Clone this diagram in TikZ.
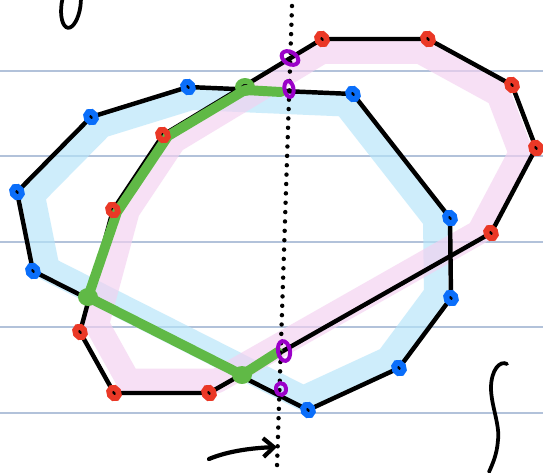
\documentclass[tikz,border=0pt]{standalone}
\usetikzlibrary{calc,arrows.meta}
\definecolor{ruled}{RGB}{178,194,218}
\definecolor{vblue}{RGB}{10,110,250}
\definecolor{vred}{RGB}{234,56,38}
\definecolor{vgreen}{RGB}{96,185,70}
\definecolor{vpurple}{RGB}{155,0,200}
\definecolor{bandblue}{RGB}{180,228,250}
\definecolor{bandpink}{RGB}{244,208,240}
\begin{document}
\begin{tikzpicture}[x=0.03cm, y=-0.03cm,
    edge/.style={line width=3.8pt, line join=round},
    band/.style={line width=21pt, line join=round, line cap=round, opacity=0.65},
    vertex/.style={line width=5pt},
    crossing/.style={vpurple, line width=3.4pt}]
    \useasboundingbox[fill=white] (0,0) rectangle (543,472);

    % Ruled paper
    \foreach \y in {71,156,242,327,413}
        \draw[ruled, line width=1.6pt] (0,\y) -- (543,\y);

    % Blue polygon
    \coordinate (bc) at (240,240);
    \coordinate (b1) at (188,87);
    \coordinate (b2) at (353,94);
    \coordinate (b3) at (450,218);
    \coordinate (b4) at (451,298);
    \coordinate (b5) at (399,368);
    \coordinate (b6) at (308,410);
    \coordinate (b7) at (33,271);
    \coordinate (b8) at (17,192);
    \coordinate (b9) at (91,117);

    % Red polygon
    \coordinate (rc) at (320,220);
    \coordinate (r1) at (322,39);
    \coordinate (r2) at (428,39);
    \coordinate (r3) at (512,85);
    \coordinate (r4) at (536,148);
    \coordinate (r5) at (491,233);
    \coordinate (r6) at (209,393);
    \coordinate (r7) at (114,393);
    \coordinate (r8) at (80,332);
    \coordinate (r9) at (113,210);
    \coordinate (r10) at (163,135);

    % Crossings
    \coordinate (g1) at (245,87);
    \coordinate (g2) at (88,297);
    \coordinate (g3) at (242,375);
    \coordinate (p1) at (290,58);
    \coordinate (p2) at (289,89);
    \coordinate (p3) at (284,351);
    \coordinate (p4) at (281,389);

    % Highlight bands
    \draw[band, bandblue] ($(bc)!0.93!(b1)$)
        \foreach \i in {2,...,9} { -- ($(bc)!0.93!(b\i)$) } -- cycle;
    \draw[band, bandpink] ($(rc)!0.93!(r1)$)
        \foreach \i in {2,...,10} { -- ($(rc)!0.93!(r\i)$) } -- cycle;

    % Outlines
    \draw[edge] (b1) -- (b2) -- (b3) -- (b4) -- (b5) -- (b6) -- (b7) -- (b8) -- (b9) -- cycle;
    \draw[edge] (r1) -- (r2) -- (r3) -- (r4) -- (r5) -- (r6) -- (r7) -- (r8) -- (r9) -- (r10) -- cycle;

    % Intersection
    \draw[vgreen, line width=8.5pt, line join=round, line cap=round]
        ($(p2)+(-8,3)$) -- ($(g1)+(0,3)$) -- ($(r10)+(5,1)$) -- ($(r9)+(4,2)$) -- (g2) -- (g3) -- ($(p3)+(-6,1)$);

    % Sweep line
    \draw[line width=3.8pt, line cap=round, dash pattern=on 0pt off 8pt] (292,6) -- (277,466);
    \draw[line width=3.6pt, line cap=round, -{Straight Barb[length=9pt, width=16pt]}]
        (209,459) .. controls (228,451) and (252,448) .. (277,447);

    % Vertices
    \foreach \p in {b1,b2,b3,b4,b5,b6,b7,b8,b9}
        \draw[vblue, vertex, shift={(\p)}, rotate=30] (0,0) ellipse [x radius=4.6, y radius=5.6];
    \foreach \p in {r1,r2,r3,r4,r5,r6,r7,r8,r9,r10}
        \draw[vred, vertex, shift={(\p)}, rotate=30] (0,0) ellipse [x radius=4.6, y radius=5.6];
    \foreach \p in {g1,g2,g3}
        \draw[vgreen, vertex, shift={(\p)}] (0,0) ellipse [x radius=7, y radius=6];
    \draw[crossing, shift={(p1)}, rotate=60] (0,0) ellipse [x radius=6, y radius=9];
    \draw[crossing, shift={(p2)}, rotate=10] (0,0) ellipse [x radius=4.5, y radius=8];
    \draw[crossing, shift={(p3)}, rotate=10] (0,0) ellipse [x radius=6, y radius=10];
    \draw[crossing, shift={(p4)}, rotate=10] (0,0) ellipse [x radius=5, y radius=6];

    % Scribbles
    \draw[line width=3.2pt, rotate around={-8:(71,5)}] (71,5) ellipse [x radius=9.5, y radius=23];
    \draw[line width=3.2pt, line cap=round]
        (507,364) .. controls (500,360) and (491,370) .. (491,388)
        .. controls (491,405) and (500,425) .. (498,440)
        .. controls (497,455) and (492,465) .. (489,472);
\end{tikzpicture}
\end{document}
